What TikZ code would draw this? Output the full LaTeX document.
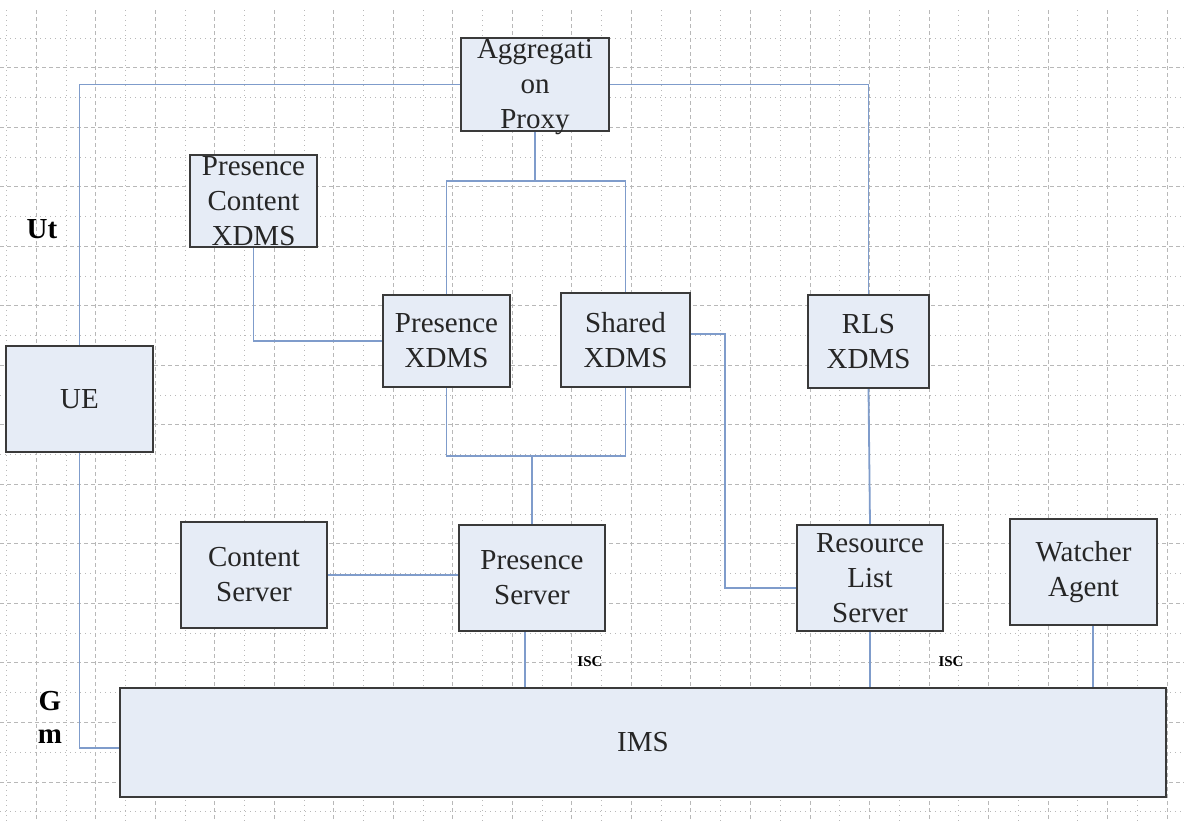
\documentclass[tikz,border=0pt]{standalone}
\usepackage{fontspec}
\setmainfont{Liberation Serif}
\usepackage{tikz}

\definecolor{boxfill}{HTML}{E6ECF6}
\definecolor{boxline}{HTML}{3A3A3A}
\definecolor{wire}{HTML}{7F9CCB}
\definecolor{gridgray}{HTML}{B8B8B8}

\begin{document}
\begin{tikzpicture}[x=0.5pt,y=-0.5pt,
  box/.style={draw=boxline,line width=1.1pt,fill=boxfill,inner sep=0pt,
    align=center,text=black!85,font=\fontsize{14.5}{17.5}\selectfont},
  wire/.style={draw=wire,line width=0.9pt},
  tag/.style={font=\bfseries\fontsize{14.5}{17.5}\selectfont},
  isc/.style={font=\bfseries\fontsize{7.5}{9}\selectfont}]
  \useasboundingbox (0,0) rectangle (1184,830);
  \fill[white] (0,0) rectangle (1184,830);
  \foreach \x in {6.5,66.02,...,1170}
    \draw[gridgray,line width=0.5pt,dotted] (\x,10) -- (\x,822);
  \foreach \x in {36.26,95.78,...,1170}
    \draw[gridgray,line width=0.5pt,dash pattern=on 2pt off 1.5pt] (\x,10) -- (\x,822);
  \foreach \y in {38,97.52,...,815}
    \draw[gridgray,line width=0.5pt,dotted] (0,\y) -- (1184,\y);
  \foreach \y in {67.76,127.28,...,815}
    \draw[gridgray,line width=0.5pt,dash pattern=on 2pt off 1.5pt] (0,\y) -- (1184,\y);

  \node[box,minimum width=74pt,minimum height=46.5pt] (proxy) at (535,84.5) {Aggregati\\on\\Prox\smash{y}};
  \node[box,minimum width=63.5pt,minimum height=46pt] (pcx) at (253.5,201) {Presence\\Content\\XDMS};
  \node[box,minimum width=63.5pt,minimum height=46pt] (pxdms) at (446.5,341) {Presence\\XDMS};
  \node[box,minimum width=64.5pt,minimum height=47pt] (sxdms) at (625.5,340) {Shared\\XDMS};
  \node[box,minimum width=60.5pt,minimum height=46.5pt] (rlsx) at (868.5,341.5) {RLS\\XDMS};
  \node[box,minimum width=73.5pt,minimum height=53pt] (ue) at (79.5,399) {UE};
  \node[box,minimum width=73pt,minimum height=53pt] (cs) at (254,575) {Content\\Server};
  \node[box,minimum width=73pt,minimum height=53pt] (ps) at (532,578) {Presence\\Server};
  \node[box,minimum width=73pt,minimum height=53pt] (rls) at (870,578) {Resource\\List\\Server};
  \node[box,minimum width=73.5pt,minimum height=53pt] (wa) at (1083.5,572) {Watcher\\Agent};
  \node[box,minimum width=523pt,minimum height=54.5pt] (ims) at (643,742.5) {IMS};

  \coordinate (pj) at (535,181);
  \coordinate (xj) at (532,456);

  \draw[wire] (ue.north) |- (proxy.west);
  \draw[wire] (proxy.east) -| (rlsx.north);
  \draw[wire] (proxy.south) -- (pj);
  \draw[wire] (pxdms.north) |- (pj) -| (sxdms.north);
  \draw[wire] (pcx.south) |- (pxdms.west);
  \draw[wire] (pxdms.south) |- (xj) -| (sxdms.south);
  \draw[wire] (xj) -- (ps.north);
  \draw[wire] ([yshift=3pt]sxdms.east) -- ++(34,0) |- ([yshift=-5pt]rls.west);
  \draw[wire] (rlsx.south) -- (rls.north);
  \draw[wire] (cs.east) -- (cs.east -| ps.west);
  \draw[wire] ([xshift=-3.5pt]ps.south) -- ([xshift=-3.5pt]ps.south |- ims.north);
  \draw[wire] (rls.south) -- (rls.south |- ims.north);
  \draw[wire] ([xshift=4.75pt]wa.south) -- ([xshift=4.75pt]wa.south |- ims.north);
  \draw[wire] (ue.south) |- ([yshift=-2.75pt]ims.west);

  \node[tag] (ut) at (42,229) {Ut};
  \node[tag] (gg) at (50,701) {G};
  \node[tag] (gm) at (50,737) {m};
  \node[isc] (isc1) at (590,662) {ISC};
  \node[isc] (isc2) at (951,662) {ISC};
\end{tikzpicture}
\end{document}
